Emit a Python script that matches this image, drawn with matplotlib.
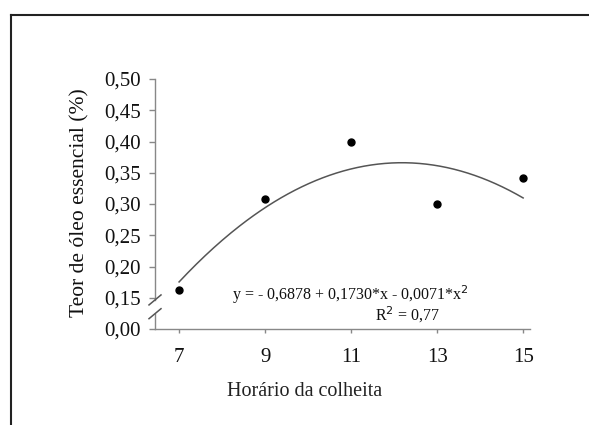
import numpy as np
import matplotlib
matplotlib.use("Agg")
import matplotlib.pyplot as plt
from matplotlib.lines import Line2D

# Data
hours = [7, 9, 11, 13, 15]
oil_content = [0.163, 0.308, 0.400, 0.300, 0.342]
coef = [-0.6878, 0.1730, -0.0071]  # y = a + b*x + c*x^2
x_ticks = [7, 9, 11, 13, 15]
y_tick_values = [0.00, 0.15, 0.20, 0.25, 0.30, 0.35, 0.40, 0.45, 0.50]
y_tick_labels = ["0,00", "0,15", "0,20", "0,25", "0,30", "0,35", "0,40", "0,45", "0,50"]

plt.rcParams['font.family'] = ['Liberation Serif', 'DejaVu Serif']

def ypos(v):
    # broken axis: 0.00 is drawn one step below 0.15
    return v if v >= 0.15 else v + 0.10

fig = plt.figure(figsize=(5.89, 4.25), dpi=100)
ax = fig.add_axes([155/589, 1-329/425, 375/589, 250/425])

xs = np.linspace(7, 15, 200)
ys = coef[0] + coef[1]*xs + coef[2]*xs**2
ax.plot(xs, [ypos(v) for v in ys], color='#555555', lw=1.1)
ax.plot(hours, [ypos(v) for v in oil_content], 'o', color='black', ms=5)

ax.set_xlim(6.44, 15.16)
ax.set_ylim(0.10, 0.50)
ax.set_xticks(x_ticks)
ax.set_xticklabels([str(t) for t in x_ticks], fontsize=15, color='#111111')
ax.set_yticks([ypos(v) for v in y_tick_values])
ax.set_yticklabels(y_tick_labels, fontsize=15, color='#111111')
ax.tick_params(axis='y', direction='out', length=4, width=1, color='#888888', pad=6)
ax.tick_params(axis='x', direction='out', length=3, width=1, color='#888888', pad=11)

for s in ['top', 'right', 'left']:
    ax.spines[s].set_visible(False)
ax.spines['bottom'].set_color('#888888')
ax.spines['bottom'].set_linewidth(1)

# left spine in two segments with break marks
def ax_y(v):
    return (v - 0.10) / 0.40
gcol = '#888888'
ax.add_line(Line2D([0, 0], [ax_y(0.147), 1.0], transform=ax.transAxes, color=gcol, lw=1, clip_on=False))
ax.add_line(Line2D([0, 0], [0, ax_y(0.124)], transform=ax.transAxes, color=gcol, lw=1, clip_on=False))
dx = 6/375
dy = 5/250
for yb in [0.1465, 0.1245]:
    yc = ax_y(yb)
    ax.add_line(Line2D([-dx, dx], [yc-dy, yc+dy], transform=ax.transAxes, color='#555555', lw=1.1, clip_on=False))

ax.text(350/589, 1-295/425, "y = - 0,6878 + 0,1730*x - 0,0071*x$^2$", transform=fig.transFigure,
        ha='center', va='center', fontsize=11.5, color='#111111')
ax.text(407/589, 1-315/425, "R$^2$ = 0,77", transform=fig.transFigure,
        ha='center', va='center', fontsize=11.5, color='#111111')

fig.text(305/589, 1-392/425, "Horário da colheita", ha='center', va='center', fontsize=14.5, color='#222222')
fig.text(80/589, 1-203/425, "Teor de óleo essencial (%)", ha='center', va='center', rotation=90,
         fontsize=15.5, color='#111111')

# frame border
fig.add_artist(Line2D([11/589, 11/589], [0, 1-15/425], transform=fig.transFigure, color='#222222', lw=1.5))
fig.add_artist(Line2D([11/589, 1], [1-15/425, 1-15/425], transform=fig.transFigure, color='#222222', lw=1.5))

fig.savefig("out.png", dpi=100)
